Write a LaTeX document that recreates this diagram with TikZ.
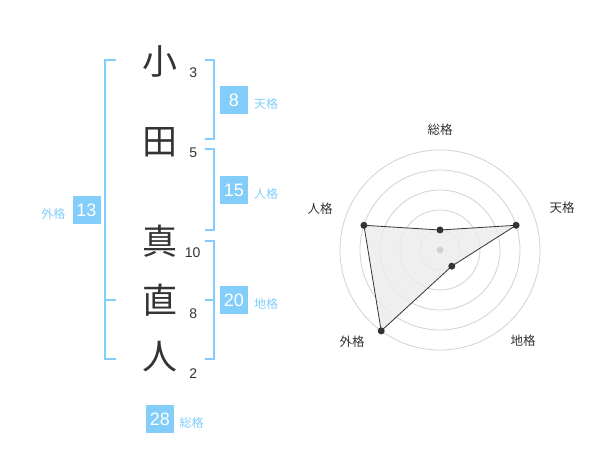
\documentclass[tikz,border=0pt]{standalone}
\usepackage{fontspec}
\setmainfont{Liberation Sans}
\newfontfamily\jp{Noto Sans CJK JP}
\definecolor{nblue}{RGB}{130,205,250}
\definecolor{ndark}{RGB}{51,51,51}
\definecolor{ngrid}{RGB}{210,210,210}
\definecolor{nfill}{RGB}{236,236,236}
\begin{document}
\begin{tikzpicture}[x=1pt,y=-1pt,
  bigchar/.style={inner sep=0pt,text=ndark,font=\jp\fontsize{35}{35}\selectfont},
  strokes/.style={inner sep=0pt,text=ndark,font=\fontsize{14}{14}\selectfont},
  valbox/.style={fill=nblue,text=white,minimum size=28pt,inner sep=0pt,font=\fontsize{18}{18}\selectfont},
  kaku/.style={inner sep=0pt,text=nblue,font=\jp\fontsize{12}{12}\selectfont},
  brk/.style={draw=nblue,line width=2pt},
  ring/.style={draw=ngrid,line width=0.8pt},
  axlabel/.style={inner sep=0pt,text=ndark,font=\jp\fontsize{12.5}{12.5}\selectfont},
  vdot/.style={circle,fill=ndark,inner sep=0pt,minimum size=7pt}]
\useasboundingbox (0,0) rectangle (600,470);
\fill[white] (0,0) rectangle (600,470);
% name characters
\node[bigchar] (c1) at (160,61) {小};
\node[bigchar] (c2) at (160,142) {田};
\node[bigchar] (c3) at (160,241) {真};
\node[bigchar] (c4) at (160,300) {直};
\node[bigchar] (c5) at (160,357) {人};
% stroke counts
\node[strokes] (s1) at (193.3,72.7) {3};
\node[strokes] (s2) at (193.3,152.7) {5};
\node[strokes] (s3) at (192.7,252.7) {10};
\node[strokes] (s4) at (193.3,313.3) {8};
\node[strokes] (s5) at (193.3,373.3) {2};
% brackets
\draw[brk] (116,60) -- (105,60) -- (105,359.3) -- (116,359.3);
\draw[brk] (105,300) -- (116,300);
\draw[brk] (205,60) -- (214.3,60) -- (214.3,139.3) -- (205,139.3);
\draw[brk] (205,149.3) -- (214.3,149.3) -- (214.3,230) -- (205,230);
\draw[brk] (205,240.7) -- (214.3,240.7) -- (214.3,359.3) -- (205,359.3);
\draw[brk] (205,300) -- (214.3,300);
% value boxes
\node[valbox] (b1) at (234,100) {8};
\node[kaku] (k1) at (266,104) {天格};
\node[valbox] (b2) at (234,190) {15};
\node[kaku] (k2) at (266,194) {人格};
\node[valbox] (b3) at (234,300) {20};
\node[kaku] (k3) at (266,304) {地格};
\node[valbox] (b4) at (86.5,210) {13};
\node[kaku] (k4) at (53.3,213.5) {外格};
\node[valbox] (b5) at (160,419) {28};
\node[kaku] (k5) at (191.7,423) {総格};
% radar chart
\coordinate (ctr) at (440,250);
\foreach \r in {20,40,60,80,100} \draw[ring] (ctr) circle[radius=\r];
\coordinate (p1) at (440,230);
\coordinate (p2) at (516.09,225.28);
\coordinate (p3) at (451.76,266.18);
\coordinate (p4) at (381.22,330.90);
\coordinate (p5) at (363.91,225.28);
\fill[nfill,fill opacity=0.8] (p1) -- (p2) -- (p3) -- (p4) -- (p5) -- cycle;
\fill[ngrid] (ctr) circle[radius=3.5];
\draw[ndark,line width=0.8pt] (p1) -- (p2) -- (p3) -- (p4) -- (p5) -- cycle;
\foreach \p in {p1,p2,p3,p4,p5} \node[vdot] at (\p) {};
\node[axlabel] (a1) at (440,130) {総格};
\node[axlabel] (a2) at (562,208) {天格};
\node[axlabel] (a3) at (523,341) {地格};
\node[axlabel] (a4) at (352,342) {外格};
\node[axlabel] (a5) at (320,209) {人格};
\end{tikzpicture}
\end{document}
